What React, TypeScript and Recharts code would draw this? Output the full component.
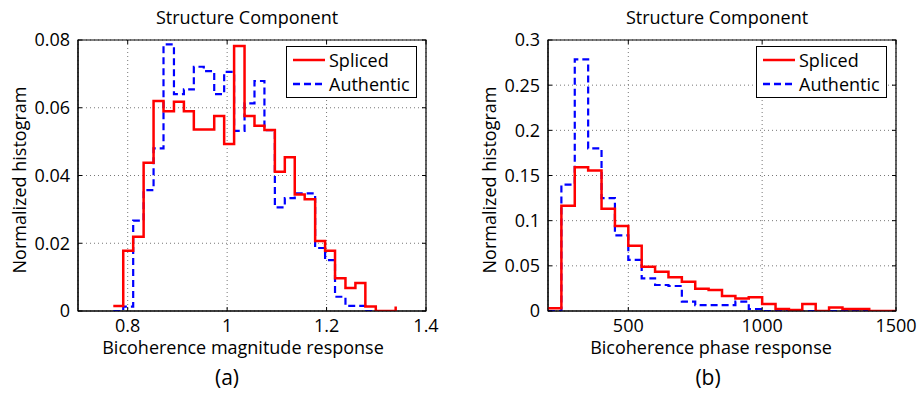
import React from "react";
import {
  LineChart, Line, XAxis, YAxis, CartesianGrid, ReferenceArea
} from "recharts";

// left panel: bicoherence magnitude (bin edges, last value is the closing vertex)
const magX = [0.771, 0.791, 0.811, 0.832, 0.852, 0.872, 0.893, 0.913, 0.933, 0.953, 0.974, 0.994, 1.014, 1.035, 1.055, 1.075, 1.096, 1.116, 1.136, 1.156, 1.177, 1.197, 1.217, 1.238, 1.258, 1.278, 1.299, 1.319, 1.339];
const magSpliced = [0.0015, 0.0178, 0.0219, 0.0438, 0.062, 0.059, 0.0618, 0.059, 0.0536, 0.0536, 0.0576, 0.0493, 0.0782, 0.0576, 0.0547, 0.0534, 0.0411, 0.0454, 0.0344, 0.033, 0.0207, 0.0178, 0.0097, 0.0068, 0.0083, 0.0013, 0, 0, 0.0013];
const magAuthentic = [0, 0.0013, 0.0267, 0.0357, 0.048, 0.0787, 0.064, 0.0654, 0.0721, 0.0708, 0.064, 0.0706, 0.0532, 0.0613, 0.0679, 0.0534, 0.0306, 0.0333, 0.0347, 0.0347, 0.0186, 0.015, 0.0042, 0.0015, 0.0015, 0, 0, null, null];
const magXTicks = [0.8, 1, 1.2, 1.4];
const magYTicks = [0, 0.02, 0.04, 0.06, 0.08];

// right panel: bicoherence phase
const phaseX = [200, 250, 300, 350, 400, 450, 500, 550, 600, 650, 700, 750, 800, 850, 900, 950, 1000, 1050, 1100, 1150, 1200, 1250, 1300, 1350, 1400, 1450, 1500];
const phaseSpliced = [0.003, 0.1166, 0.159, 0.1554, 0.1133, 0.094, 0.0723, 0.049, 0.0435, 0.0373, 0.0325, 0.0247, 0.0232, 0.0166, 0.0137, 0.0151, 0.0077, 0.0022, 0.001, 0.0077, 0, 0.004, 0.0022, 0.0022, 0, 0, 0];
const phaseAuthentic = [0, 0.14, 0.2786, 0.18, 0.125, 0.0838, 0.0565, 0.0362, 0.0288, 0.0277, 0.0103, 0.0066, 0.0066, 0.0066, 0.0103, 0.0022, 0, 0, 0, 0, 0, 0, 0, 0, 0, 0, 0];
const phaseXTicks = [500, 1000, 1500];
const phaseYTicks = [0, 0.05, 0.1, 0.15, 0.2, 0.25, 0.3];

const legendItems = [
  { name: "Spliced", color: "#ff0000", dash: undefined },
  { name: "Authentic", color: "#0000ff", dash: "7 4" },
];

const FONT = "'Open Sans', sans-serif";
const PLOT_TOP = 40;
const PLOT_BOTTOM = 311;
const TICK = 4;

const magData = magX.map((x, i) => ({ x, spliced: magSpliced[i], authentic: magAuthentic[i] }));
const phaseData = phaseX.map((x, i) => ({ x, spliced: phaseSpliced[i], authentic: phaseAuthentic[i] }));

function LegendBox({ left, top }: { left: number; top: number }) {
  return (
    <div style={{
      position: "absolute", left, top, width: 129, height: 50,
      border: "1.5px solid #000", background: "#fff",
      fontFamily: FONT, fontSize: 18, lineHeight: "24px"
    }}>
      {legendItems.map((it, i) => (
        <div key={it.name} style={{ display: "flex", alignItems: "center", height: 24, marginTop: i === 0 ? 1 : 0 }}>
          <svg width={40} height={10} style={{ marginLeft: 5 }}>
            <line x1={1} y1={5} x2={33} y2={5} stroke={it.color} strokeWidth={2.5} strokeDasharray={it.dash} />
          </svg>
          <span style={{ marginLeft: -3 }}>{it.name}</span>
        </div>
      ))}
    </div>
  );
}

function Panel({ data, xDomain, xTicks, yDomain, yTicks, yWidth, right }: any) {
  const plotLeft = 78;
  const plotRight = 460 - right;
  const xTick = ({ x, y, payload }: any) => (
    <g>
      <line x1={x} y1={PLOT_BOTTOM} x2={x} y2={PLOT_BOTTOM - TICK} stroke="#000" />
      <line x1={x} y1={PLOT_TOP} x2={x} y2={PLOT_TOP + TICK} stroke="#000" />
      <text x={x} y={y} dy="0.71em" textAnchor="middle" fontSize={18} fontFamily={FONT} fill="#000">
        {payload.value}
      </text>
    </g>
  );
  const yTick = ({ x, y, payload }: any) => (
    <g>
      <line x1={plotLeft} y1={y} x2={plotLeft + TICK} y2={y} stroke="#000" />
      <line x1={plotRight} y1={y} x2={plotRight - TICK} y2={y} stroke="#000" />
      <text x={x} y={y} dy="0.355em" textAnchor="end" fontSize={18} fontFamily={FONT} fill="#000">
        {payload.value}
      </text>
    </g>
  );
  return (
    <LineChart width={460} height={394} data={data}
      margin={{ top: PLOT_TOP, right, bottom: 394 - PLOT_BOTTOM - 30, left: plotLeft - yWidth }}>
      <CartesianGrid strokeDasharray="1 3" stroke="#777" />
      <XAxis dataKey="x" type="number" domain={xDomain} ticks={xTicks} allowDataOverflow
        height={30} axisLine={{ stroke: "#000" }} tickLine={false} tick={xTick} />
      <YAxis type="number" domain={yDomain} ticks={yTicks} allowDataOverflow
        width={yWidth} axisLine={{ stroke: "#000" }} tickLine={false} tick={yTick} />
      <ReferenceArea x1={xDomain[0]} x2={xDomain[1]} y1={yDomain[0]} y2={yDomain[1]}
        fill="none" stroke="#000" strokeWidth={1.2} ifOverflow="visible" />
      <Line dataKey="authentic" type="stepAfter" stroke="#0000ff" strokeWidth={2.2}
        strokeDasharray="7 4" dot={false} isAnimationActive={false} />
      <Line dataKey="spliced" type="stepAfter" stroke="#ff0000" strokeWidth={2.5}
        dot={false} isAnimationActive={false} />
    </LineChart>
  );
}

const txt = (s: string, left: number, top: number, size: number, rot = false) => (
  <div style={{
    position: "absolute", left, top, transform: "translate(-50%, -50%)" + (rot ? " rotate(-90deg)" : ""),
    fontFamily: FONT, fontSize: size, whiteSpace: "nowrap", color: "#000"
  }}>{s}</div>
);

export default function App() {
  return (
    <div style={{ position: "fixed", left: 0, top: 0, width: 920, height: 394, background: "#fff", overflow: "hidden" }}>
      <div style={{ position: "absolute", left: 0, top: 0 }}>
        <Panel data={magData} xDomain={[0.7, 1.4]} xTicks={magXTicks}
          yDomain={[0, 0.08]} yTicks={magYTicks} yWidth={40} right={34} />
      </div>
      <div style={{ position: "absolute", left: 470, top: 0 }}>
        <Panel data={phaseData} xDomain={[200, 1500]} xTicks={phaseXTicks}
          yDomain={[0, 0.3]} yTicks={phaseYTicks} yWidth={50} right={34} />
      </div>
      <LegendBox left={286} top={46} />
      <LegendBox left={756} top={46} />
      {txt("Structure Component", 247, 17, 18)}
      {txt("Structure Component", 717, 17, 18)}
      {txt("Bicoherence magnitude response", 243, 347, 18)}
      {txt("Bicoherence phase response", 711, 347, 18)}
      {txt("Normalized histogram", 19, 180, 18, true)}
      {txt("Normalized histogram", 489, 180, 18, true)}
      {txt("(a)", 227, 377, 21)}
      {txt("(b)", 708, 377, 21)}
    </div>
  );
}
